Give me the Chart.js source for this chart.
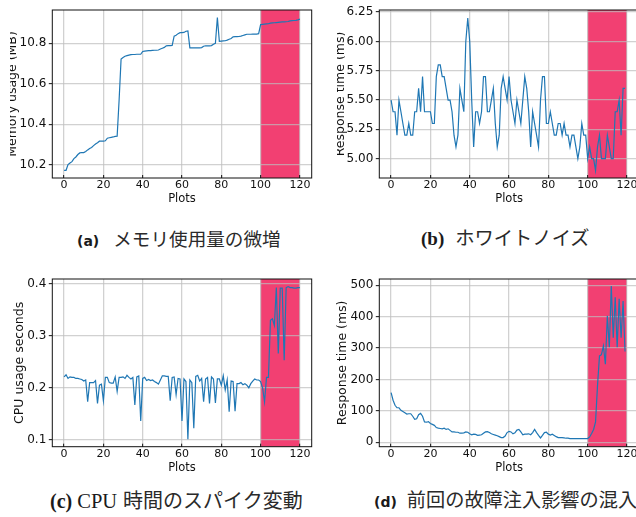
<!DOCTYPE html>
<html>
<head>
<meta charset="utf-8">
<script src="https://cdn.jsdelivr.net/npm/chart.js@4/dist/chart.umd.min.js"></script>
<style>
  html, body { margin: 0; padding: 0; background: #fff; overflow: hidden; }
  body { width: 636px; height: 517px; position: relative; }
  canvas { position: absolute; }
  .cap { position: absolute; white-space: nowrap; line-height: 24px; height: 24px; color: #1a1a1a; }
  .cap .tag { font-weight: bold; display: inline-block; }
  .cap .sans { font-family: "DejaVu Sans", sans-serif; font-size: 14px; }
  .cap .serif { font-family: "Liberation Serif", serif; font-size: 19px; }
  .cap .jp { font-family: "Noto Sans CJK JP", sans-serif; font-size: 18.6px; color: #2a2a2a; display: inline-block; }
</style>
</head>
<body>
<canvas id="chartA" width="310" height="210" style="left:10px;top:0px"></canvas>
<canvas id="chartB" width="318" height="210" style="left:337px;top:0px"></canvas>
<canvas id="chartC" width="320" height="210" style="left:0px;top:269px"></canvas>
<canvas id="chartD" width="318" height="210" style="left:330px;top:269px"></canvas>

<div class="cap" style="left:77px;top:226px"><span class="tag sans">(a)</span><span class="jp" style="margin-left:14px">メモリ使用量の微増</span></div>
<div class="cap" style="left:421px;top:225px"><span class="tag serif">(b)</span><span class="jp" style="margin-left:11px;font-size:19.3px">ホワイトノイズ</span></div>
<div class="cap" style="left:50px;top:488px"><span class="tag serif" style="font-size:20px">(c)</span><span class="serif" style="margin-left:5px;font-size:20.5px">CPU</span><span class="jp" style="margin-left:6px;font-size:20px">時間のスパイク変動</span></div>
<div class="cap" style="left:374px;top:487px"><span class="tag sans">(d)</span><span class="jp" style="margin-left:10px;font-size:19.2px">前回の故障注入影響の混入</span></div>

<script>
// fault injection window (plot index range)
const faultWindow = [100, 120];
const xTicks = [0, 20, 40, 60, 80, 100, 120];

// (a) memory usage (MB)
const memUsage = [
  10.172, 10.172, 10.200, 10.208, 10.215, 10.230, 10.238, 10.250, 10.258, 10.260,
  10.260, 10.265, 10.273, 10.280, 10.285, 10.294, 10.302, 10.308, 10.316, 10.316,
  10.316, 10.318, 10.331, 10.333, 10.335, 10.337, 10.340, 10.341, 10.520, 10.722,
  10.730, 10.736, 10.739, 10.742, 10.744, 10.745, 10.745, 10.746, 10.746, 10.746,
  10.760, 10.762, 10.763, 10.764, 10.764, 10.765, 10.766, 10.766, 10.767, 10.772,
  10.776, 10.780, 10.788, 10.789, 10.789, 10.790, 10.836, 10.840, 10.848, 10.853,
  10.853, 10.854, 10.860, 10.861, 10.778, 10.778, 10.778, 10.778, 10.778, 10.778,
  10.779, 10.786, 10.788, 10.788, 10.788, 10.789, 10.796, 10.800, 10.928, 10.810,
  10.811, 10.812, 10.813, 10.816, 10.820, 10.824, 10.832, 10.833, 10.833, 10.834,
  10.836, 10.839, 10.842, 10.845, 10.845, 10.845, 10.846, 10.846, 10.846, 10.848,
  10.893, 10.894, 10.895, 10.896, 10.897, 10.900, 10.901, 10.902, 10.903, 10.904,
  10.905, 10.906, 10.906, 10.907, 10.908, 10.911, 10.912, 10.913, 10.914, 10.916,
  10.920
];
const memTicks = [10.2, 10.4, 10.6, 10.8];

// (b) response time with white noise (ms)
const noiseResp = [
  5.5, 5.4, 5.4, 5.2, 5.5, 5.4, 5.3, 5.2, 5.2, 5.3,
  5.2, 5.2, 5.4, 5.4, 5.6, 5.4, 5.7, 5.4, 5.4, 5.4,
  5.4, 5.3, 5.3, 5.7, 5.8, 5.8, 5.7, 5.7, 5.6, 5.5,
  5.5, 5.4, 5.2, 5.1, 5.2, 5.6, 5.5, 5.4, 6.0, 6.2,
  6.0, 5.5, 5.1, 5.4, 5.4, 5.3, 5.4, 5.7, 5.7, 5.4,
  5.4, 5.5, 5.6, 5.3, 5.1, 5.2, 5.6, 5.7, 5.6, 5.5,
  5.7, 5.5, 5.4, 5.3, 5.5, 5.4, 5.3, 5.5, 5.7, 5.6,
  5.4, 5.1, 5.4, 5.3, 5.2, 5.1, 5.5, 5.7, 5.7, 5.3,
  5.3, 5.4, 5.3, 5.2, 5.2, 5.3, 5.3, 5.2, 5.3, 5.2,
  5.2, 5.1, 5.2, 5.2, 5.1, 5.0, 5.1, 5.3, 5.2, 5.2,
  5.0, 5.1, 5.0, 5.0, 4.9, 5.1, 5.2, 5.0, 5.0, 5.0,
  5.2, 5.1, 5.0, 5.0, 5.4, 5.4, 5.5, 5.2, 5.6, 5.6
];
const noiseTicks = [5.00, 5.25, 5.50, 5.75, 6.00, 6.25];

// (c) CPU usage seconds
const cpuSeconds = [
  0.221, 0.225, 0.218, 0.221, 0.220, 0.220, 0.218, 0.218, 0.217, 0.216,
  0.213, 0.215, 0.173, 0.210, 0.210, 0.210, 0.214, 0.170, 0.205, 0.207,
  0.175, 0.220, 0.220, 0.210, 0.209, 0.209, 0.221, 0.193, 0.220, 0.220,
  0.221, 0.218, 0.224, 0.220, 0.217, 0.220, 0.167, 0.221, 0.223, 0.136,
  0.218, 0.220, 0.214, 0.216, 0.214, 0.215, 0.212, 0.210, 0.207, 0.215,
  0.223, 0.223, 0.222, 0.222, 0.175, 0.220, 0.221, 0.187, 0.218, 0.217,
  0.136, 0.217, 0.212, 0.101, 0.215, 0.210, 0.122, 0.222, 0.224, 0.213,
  0.218, 0.173, 0.217, 0.220, 0.170, 0.221, 0.217, 0.171, 0.217, 0.217,
  0.205, 0.223, 0.196, 0.215, 0.154, 0.213, 0.212, 0.155, 0.208, 0.208,
  0.210, 0.206, 0.208, 0.205, 0.200, 0.208, 0.213, 0.217, 0.215, 0.215,
  0.212, 0.200, 0.173, 0.220, 0.220, 0.330, 0.333, 0.320, 0.393, 0.266,
  0.392, 0.392, 0.253, 0.393, 0.395, 0.393, 0.393, 0.392, 0.392, 0.393,
  0.393
];
const cpuTicks = [0.1, 0.2, 0.3, 0.4];

// (d) response time, leftover effect of previous injection (ms)
const prevResp = [
  158, 134, 118, 110, 110, 102, 98, 94, 90, 91,
  91, 83, 73, 75, 88, 92, 83, 65, 64, 66,
  60, 57, 54, 47, 45, 44, 43, 45, 41, 43,
  38, 33, 33, 32, 32, 29, 29, 30, 33, 32,
  27, 24, 26, 25, 22, 23, 24, 29, 33, 34,
  31, 27, 25, 23, 21, 18, 15, 15, 20, 31,
  35, 33, 27, 30, 39, 41, 33, 24, 26, 26,
  27, 24, 31, 41, 31, 22, 14, 22, 31, 32,
  26, 23, 26, 22, 18, 15, 15, 15, 14, 13,
  13, 12, 12, 12, 12, 12, 12, 12, 12, 12,
  12, 17, 28, 41, 65, 181, 275, 279, 307, 249,
  403, 303, 498, 333, 462, 303, 457, 333, 450, 289
];
const prevTicks = [0, 100, 200, 300, 400, 500];

Chart.defaults.font.family = "'DejaVu Sans', sans-serif";
Chart.defaults.color = "#111";

const spanAndFrame = {
  id: "spanAndFrame",
  beforeDraw(chart) {
    const { ctx, chartArea: a, scales: { x } } = chart;
    const x0 = x.getPixelForValue(faultWindow[0]);
    const x1 = x.getPixelForValue(faultWindow[1]);
    ctx.save();
    ctx.fillStyle = "rgb(242,64,114)";
    ctx.fillRect(x0, a.top, x1 - x0, a.bottom - a.top);
    ctx.restore();
  },
  afterDraw(chart) {
    const { ctx, chartArea: a } = chart;
    ctx.save();
    ctx.strokeStyle = "#111";
    ctx.lineWidth = 1;
    ctx.strokeRect(a.left, a.top, a.right - a.left, a.bottom - a.top);
    ctx.restore();
  },
};

function makePanel(id, values, yMin, yMax, yTicks, decimals, yTitle, g) {
  const ctx = document.getElementById(id).getContext("2d");
  return new Chart(ctx, {
    type: "line",
    data: {
      datasets: [{
        data: values.map((v, i) => ({ x: i, y: v })),
        borderColor: "#1f77b4",
        borderWidth: 1.2,
        pointRadius: 0,
        tension: 0,
      }],
    },
    options: {
      responsive: false,
      animation: false,
      devicePixelRatio: 1,
      layout: { padding: { top: g.padTop, right: g.padRight, left: 0, bottom: 0 } },
      plugins: { legend: { display: false }, tooltip: { enabled: false } },
      scales: {
        x: {
          type: "linear",
          min: -6,
          max: 126,
          afterBuildTicks: (s) => { s.ticks = xTicks.map((v) => ({ value: v })); },
          afterFit: (s) => { s.height = g.xHeight; },
          ticks: { font: { size: 11 }, padding: 3.4, autoSkip: false, maxRotation: 0, color: "#111" },
          grid: { color: "rgba(190,190,190,0.7)", lineWidth: 1.3, tickLength: -3, tickColor: "#111", tickWidth: 1 },
          border: { display: false },
          title: { display: true, text: "Plots", font: { size: 11.5 }, padding: { top: 0, bottom: 4.5 }, color: "#111" },
        },
        y: {
          type: "linear",
          min: yMin,
          max: yMax,
          afterBuildTicks: (s) => { s.ticks = yTicks.map((v) => ({ value: v })); },
          afterFit: (s) => { s.width = g.yWidth; },
          ticks: { font: { size: 12 }, padding: 2.5, color: "#111", callback: (v) => Number(v).toFixed(decimals) },
          grid: { color: "rgba(190,190,190,0.7)", lineWidth: 1.3, tickLength: 3.5, tickColor: "#111", tickWidth: 1 },
          border: { display: false },
          title: { display: true, text: yTitle, font: { size: 12.5 }, padding: { top: g.titlePad, bottom: 0 }, color: "#111" },
        },
      },
    },
    plugins: [spanAndFrame],
  });
}

makePanel("chartA", memUsage, 10.134, 10.965, memTicks, 1, "Memory usage (MB)",
  { padTop: 10, padRight: 8.3, xHeight: 32, yWidth: 42.3, titlePad: -5 });
makePanel("chartB", noiseResp, 4.835, 6.268, noiseTicks, 2, "Response time (ms)",
  { padTop: 10, padRight: 16.2, xHeight: 32, yWidth: 42.3, titlePad: -4 });
makePanel("chartC", cpuSeconds, 0.0865, 0.4096, cpuTicks, 1, "CPU usage seconds",
  { padTop: 10, padRight: 8.3, xHeight: 32.3, yWidth: 52.3, titlePad: 12 });
makePanel("chartD", prevResp, -14, 520, prevTicks, 0, "Response time (ms)",
  { padTop: 10, padRight: 9.2, xHeight: 32.3, yWidth: 49.3, titlePad: 5 });
</script>
</body>
</html>
